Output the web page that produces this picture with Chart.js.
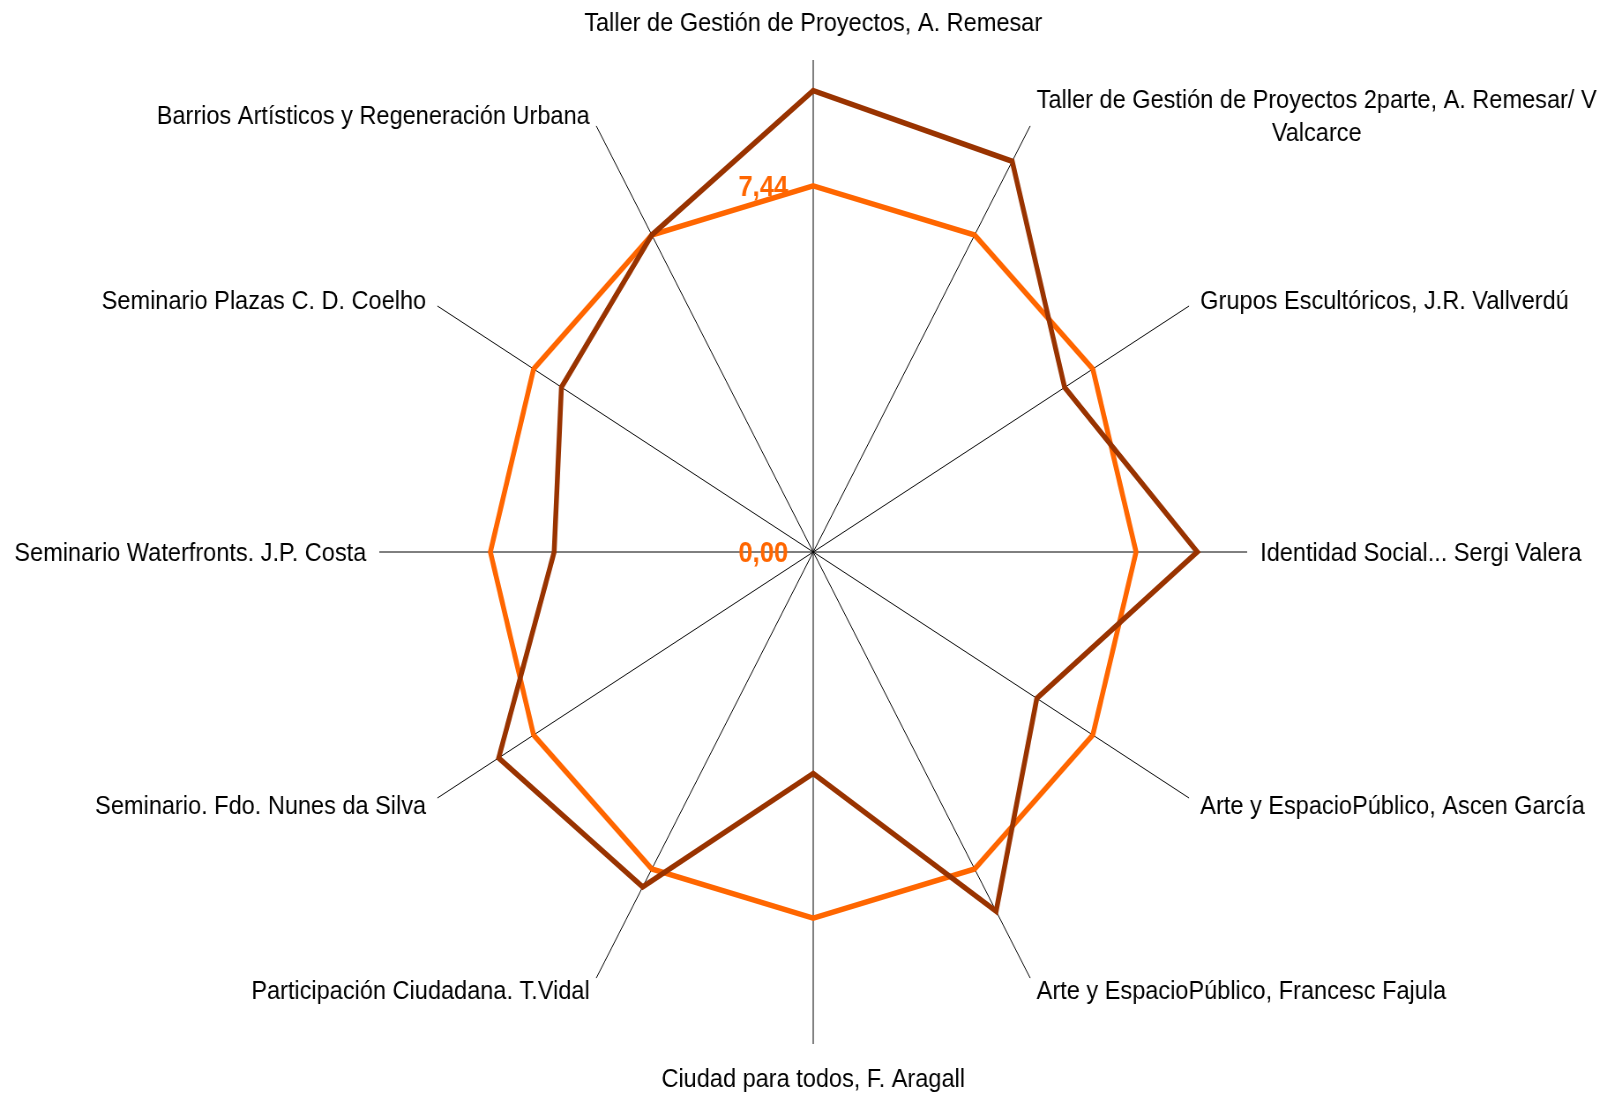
<!DOCTYPE html>
<html lang="es">
<head>
<meta charset="utf-8">
<title>Valoración de actividades</title>
<script src="https://cdn.jsdelivr.net/npm/chart.js@4.4.1/dist/chart.umd.min.js"></script>
<style>
  html, body { margin: 0; padding: 0; background: #fff; overflow: hidden; }
  /* el original está comprimido en horizontal, lo imitamos escalando el lienzo */
  #contenedor { width: 1817px; height: 1096px; transform: scaleX(0.882); transform-origin: 0 0; }
</style>
</head>
<body>
<div id="contenedor"><canvas id="chartRadar" width="1817" height="1096"></canvas></div>
<script>
const actividades = [
  "Taller de Gestión de Proyectos, A. Remesar",
  ["Taller de Gestión de Proyectos 2parte, A. Remesar/ V", "Valcarce"],
  "Grupos Escultóricos, J.R. Vallverdú",
  "Identidad Social... Sergi Valera",
  "Arte y EspacioPúblico, Ascen García",
  "Arte y EspacioPúblico, Francesc Fajula",
  "Ciudad para todos, F. Aragall",
  "Participación Ciudadana. T.Vidal",
  "Seminario. Fdo. Nunes da Silva",
  "Seminario Waterfronts. J.P. Costa",
  "Seminario Plazas C. D. Coelho",
  "Barrios Artísticos y Regeneración Urbana"
];

const valoraciones = [9.38, 9.17, 6.69, 8.85, 5.95, 8.43, 4.50, 7.86, 8.37, 5.97, 6.70, 7.44];
const promedio = [7.44, 7.44, 7.44, 7.44, 7.44, 7.44, 7.44, 7.44, 7.44, 7.44, 7.44, 7.44];

const marcasValores = [0, 7.44];
const marcasTextos = ["0,00", "7,44"];

const ESCALA_X = 0.882;

// Etiquetas de las actividades y de los valores, dibujadas a mano
const etiquetasPlugin = {
  id: "etiquetas",
  afterDraw(chart) {
    const escala = chart.scales.r;
    const ctx = chart.ctx;
    ctx.save();

    ctx.font = "26.7px 'Liberation Sans', Arial, sans-serif";
    ctx.fillStyle = "#000";
    ctx.textBaseline = "middle";
    actividades.forEach((texto, i) => {
      const lineas = Array.isArray(texto) ? texto : [texto];
      const ang = escala.getIndexAngle(i);
      const s = Math.sin(ang), c = Math.cos(ang);
      const p = escala.getPointPosition(i, escala.drawingArea);
      let x = p.x + s * 13 / ESCALA_X;
      let y = p.y - c * 13 + 2;
      const anchoMax = Math.max(...lineas.map(l => ctx.measureText(l).width));
      if (s > 0.05) x += anchoMax / 2;
      else if (s < -0.05) x -= anchoMax / 2;
      else y = c > 0 ? p.y - 36 : p.y + 36;
      ctx.textAlign = "center";
      const alto = 33;
      lineas.forEach((l, k) => {
        ctx.fillText(l, x, y - (lineas.length - 1) * alto / 2 + k * alto);
      });
    });

    ctx.font = "bold 29px 'Liberation Sans', Arial, sans-serif";
    ctx.fillStyle = "#FF6600";
    ctx.textAlign = "right";
    marcasValores.forEach((v, i) => {
      const d = escala.getDistanceFromCenterForValue(v);
      ctx.fillText(marcasTextos[i], escala.xCenter - 25 / ESCALA_X, escala.yCenter - d + 2);
    });
    ctx.restore();
  }
};

const ctxRadar = document.getElementById("chartRadar");
new Chart(ctxRadar, {
  type: "radar",
  data: {
    labels: actividades,
    datasets: [{
      label: "Valoración",
      data: valoraciones,
      borderColor: "#993300",
      borderWidth: 5.5,
      fill: false,
      pointRadius: 0
    }, {
      label: "Promedio",
      data: promedio,
      borderColor: "#FF6600",
      borderWidth: 5.5,
      fill: false,
      pointRadius: 0
    }]
  },
  options: {
    responsive: false,
    animation: false,
    devicePixelRatio: 1,
    layout: { padding: { left: 430, right: 403, top: 60, bottom: 52 } },
    elements: { line: { tension: 0, borderJoinStyle: "miter" } },
    plugins: {
      legend: { display: false },
      tooltip: { enabled: false }
    },
    scales: {
      r: {
        min: 0,
        max: 10,
        ticks: { display: false },
        pointLabels: { display: false },
        grid: { display: false },
        angleLines: { display: true, color: "#000", lineWidth: 1 }
      }
    }
  },
  plugins: [etiquetasPlugin]
});
</script>
</body>
</html>
